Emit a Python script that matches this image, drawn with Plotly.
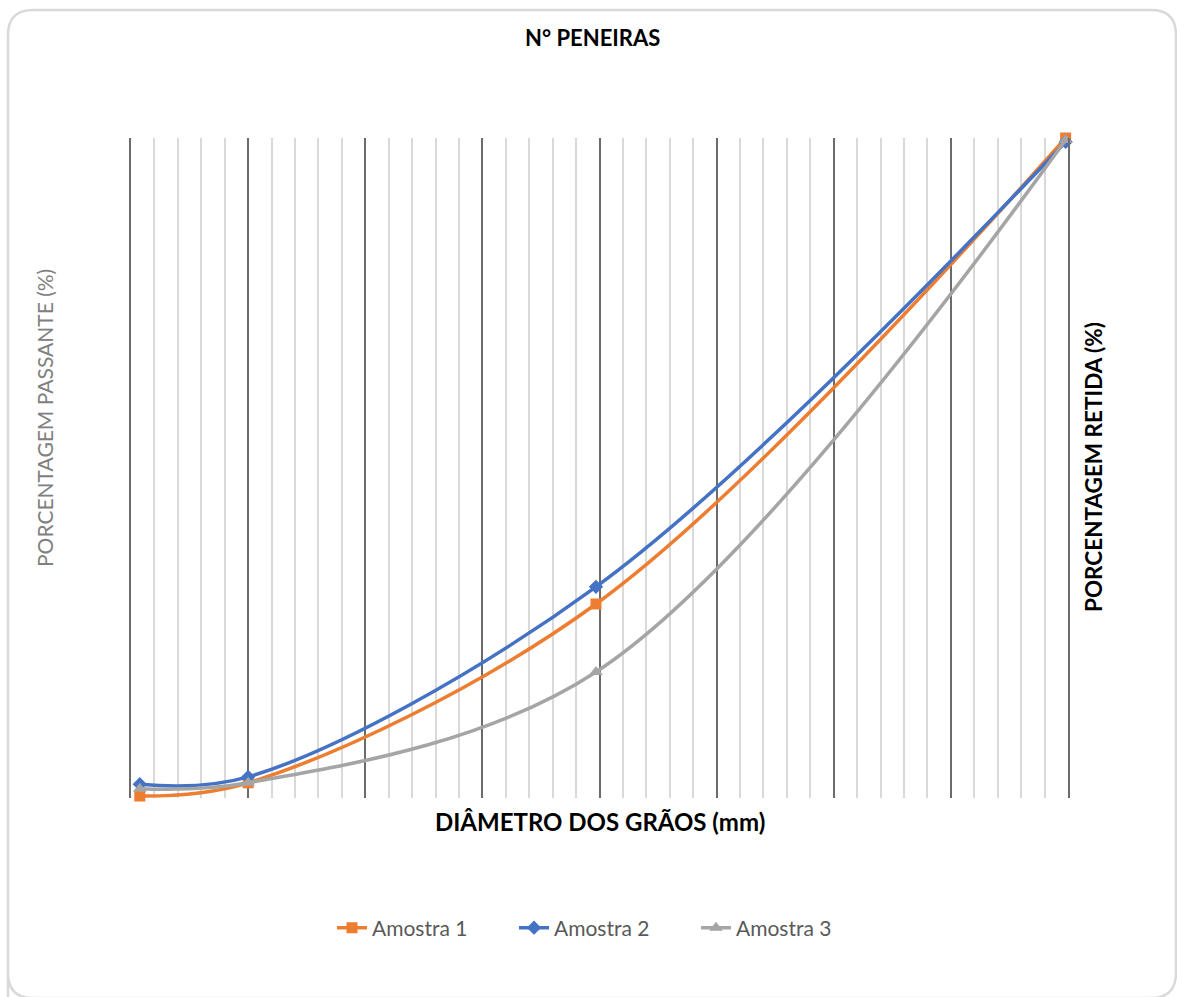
import plotly.graph_objects as go

# ---- data ----
diametro = [0.075, 1.0, 3.97, 7.98]
amostra1 = [0.3, 2.3, 29.4, 100.0]
amostra2 = [2.1, 3.2, 32.0, 99.4]
amostra3 = [1.4, 2.3, 19.1, 99.7]
series_names = ["Amostra 1", "Amostra 2", "Amostra 3"]

W, H = 1177, 997
L, R, T, B = 131, 1068, 138, 798


def px(x):
    return (x - L) / (R - L)


def py(y):
    return (B - y) / (B - T)


fig = go.Figure()
styles = [
    ("#ED7D31", "square", 11),
    ("#4472C4", "diamond", 11),
    ("#A5A5A5", "triangle-up", 12),
]
for name, ys, (col, sym, ms) in zip(series_names, [amostra1, amostra2, amostra3], styles):
    fig.add_trace(go.Scatter(
        x=diametro, y=ys, name=name, mode="lines+markers",
        line=dict(color=col, width=3.5, shape="spline", smoothing=1),
        marker=dict(symbol=sym, size=ms, color=col),
        cliponaxis=False,
    ))

font_family = "Lato, 'Open Sans', sans-serif"

fig.update_layout(
    width=W, height=H,
    margin=dict(l=L, r=W - R, t=T, b=H - B),
    paper_bgcolor="white", plot_bgcolor="white",
    font=dict(family=font_family),
    xaxis=dict(
        range=[0, 8], dtick=1, showgrid=True, gridcolor="#6b6b6b", gridwidth=1.5,
        showticklabels=False, ticks="", zeroline=False, showline=False,
        minor=dict(dtick=0.2, showgrid=True, gridcolor="#d9d9d9", gridwidth=1.5),
    ),
    yaxis=dict(
        range=[0, 100], showgrid=False, showticklabels=False, ticks="",
        zeroline=False, showline=True, linecolor="#6b6b6b", linewidth=1.5, mirror=True,
    ),
    legend=dict(
        orientation="h", x=px(605), y=py(928), xanchor="center", yanchor="middle",
        font=dict(size=21, color="#595959", family=font_family),
        entrywidth=137, entrywidthmode="pixels",
    ),
)

ann = [
    dict(text="<b>N° PENEIRAS</b>", x=px(592), y=py(38), size=22, color="#000000", angle=0),
    dict(text="<b>DIÂMETRO DOS GRÃOS (mm)</b>", x=px(600), y=py(821), size=24, color="#000000", angle=0),
    dict(text="PORCENTAGEM PASSANTE (%)", x=px(45), y=py(418), size=21, color="#808080", angle=-90),
    dict(text="<b>PORCENTAGEM RETIDA (%)</b>", x=px(1093), y=py(467), size=22.5, color="#000000", angle=-90),
]
for a in ann:
    fig.add_annotation(
        text=a["text"], x=a["x"], y=a["y"], xref="paper", yref="paper",
        xanchor="center", yanchor="middle", showarrow=False, textangle=a["angle"],
        font=dict(size=a["size"], color=a["color"], family=font_family),
    )

# rounded chart-area border
r = 25
x0, x1, y0, y1 = 8, 1176, 10, 998


def P(x, y):
    return f"{px(x):.5f},{py(y):.5f}"


path = (
    f"M {P(x0, y1 + 20)} L {P(x0, y1 - r)} Q {P(x0, y1)} {P(x0 + r, y1)} "
    f"L {P(x1 - r, y1)} Q {P(x1, y1)} {P(x1, y1 - r)} "
    f"L {P(x1, y0 + r)} Q {P(x1, y0)} {P(x1 - r, y0)} "
    f"L {P(x0 + r, y0)} Q {P(x0, y0)} {P(x0, y0 + r)} Z"
)
fig.add_shape(type="path", path=path, xref="paper", yref="paper",
              line=dict(color="#d9d9d9", width=2.5), layer="below")

fig.write_html("out.html")
